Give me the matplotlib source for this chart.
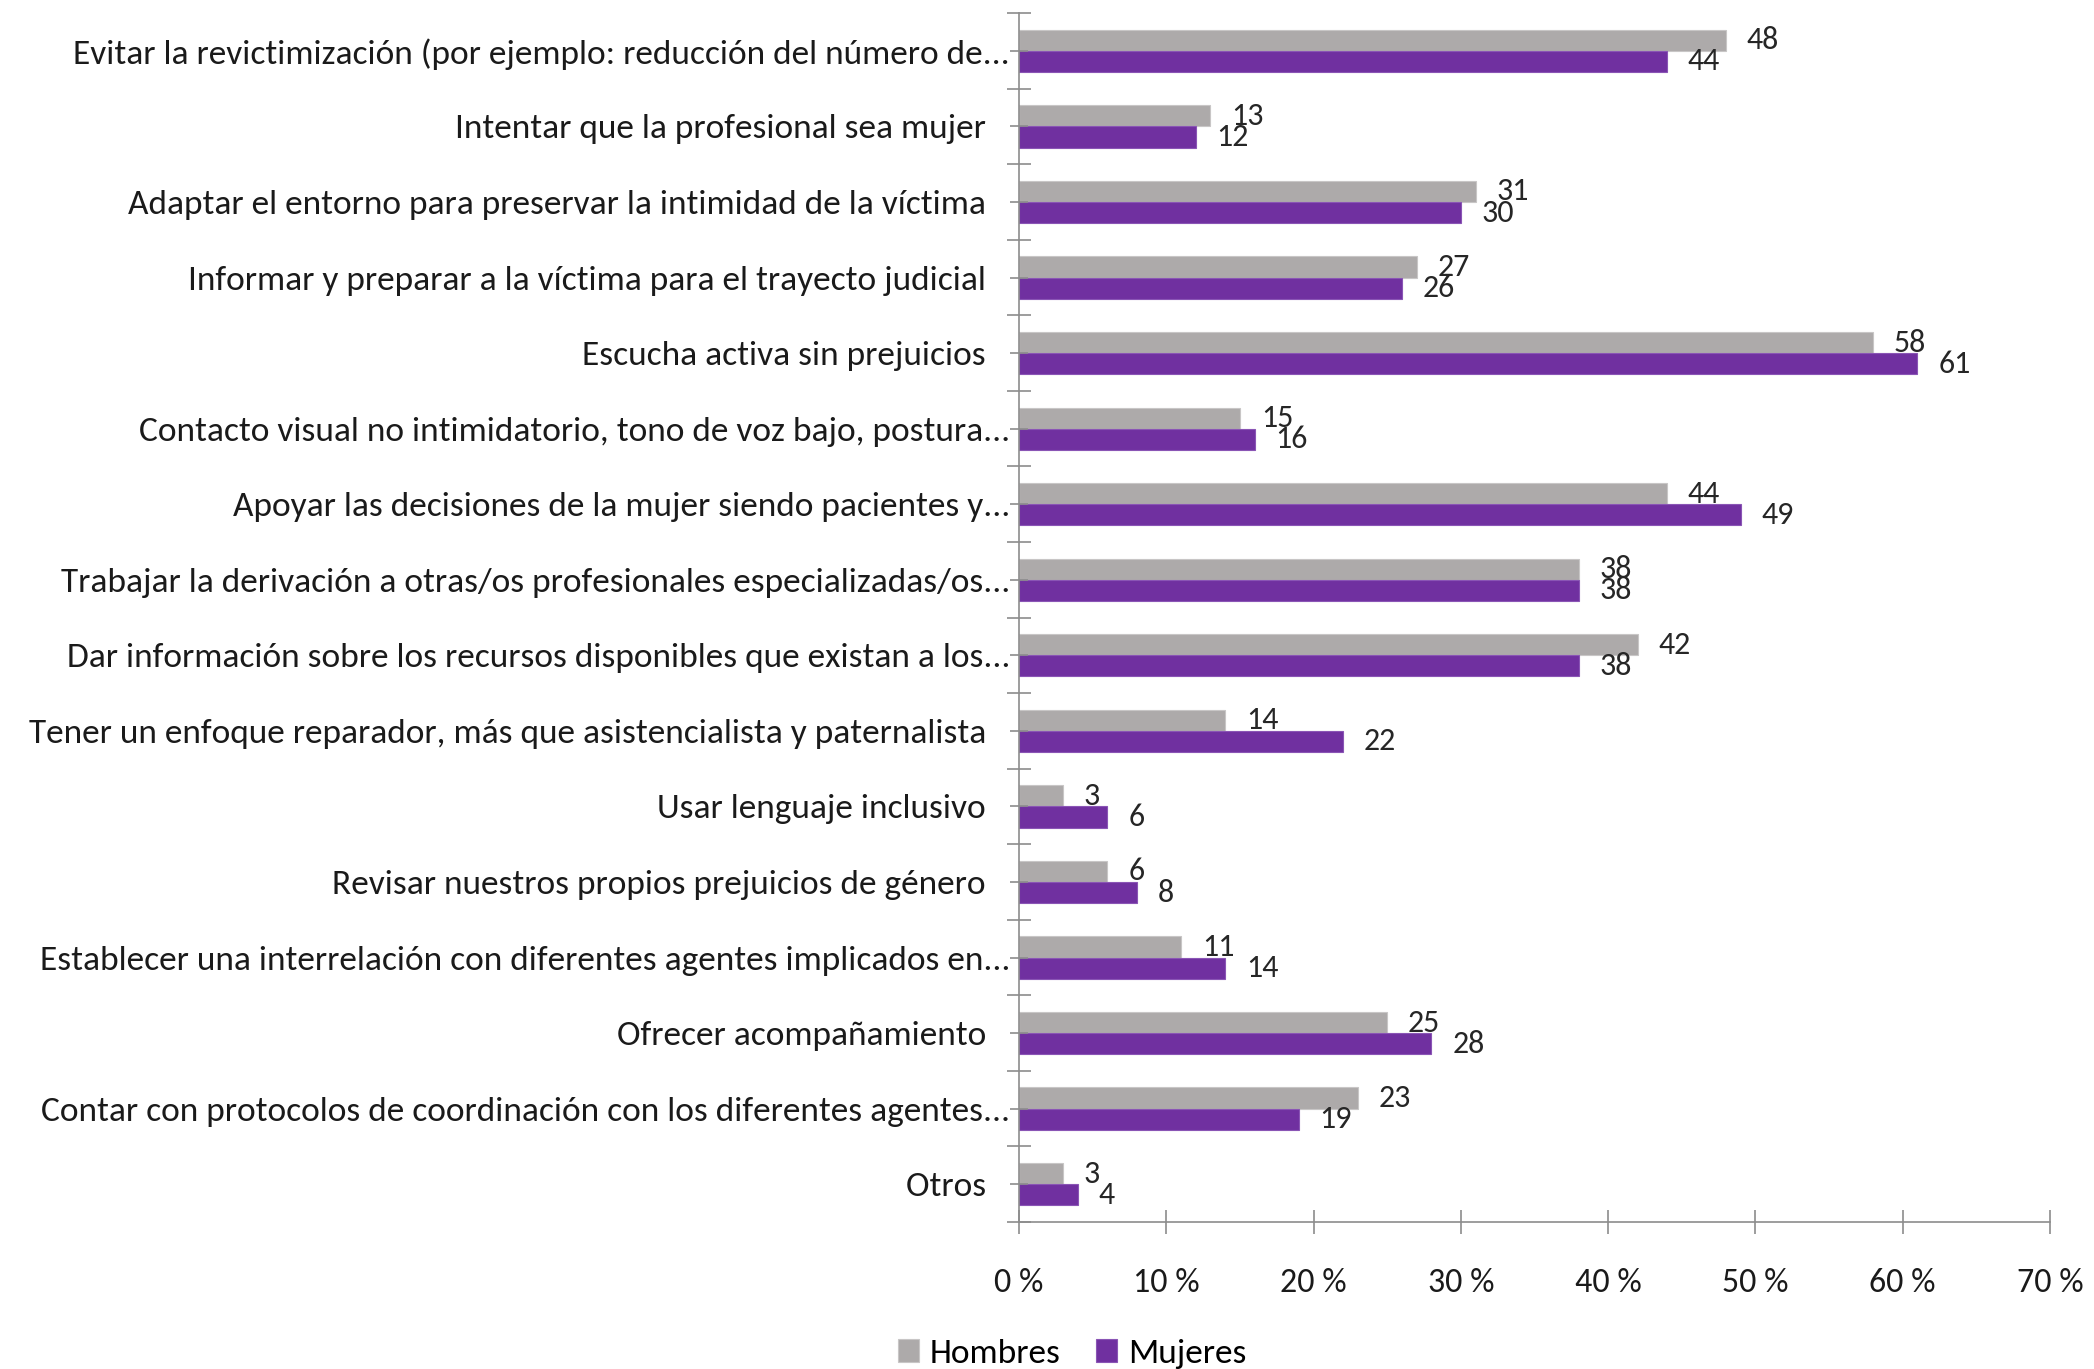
import matplotlib
matplotlib.use("Agg")

import matplotlib.pyplot as plt
import numpy as np


categories = [
    "Evitar la revictimización (por ejemplo: reducción del número de...",
    "Intentar que la profesional sea mujer",
    "Adaptar el entorno para preservar la intimidad de la víctima",
    "Informar y preparar a la víctima para el trayecto judicial",
    "Escucha activa sin prejuicios",
    "Contacto visual no intimidatorio, tono de voz bajo, postura...",
    "Apoyar las decisiones de la mujer siendo pacientes y...",
    "Trabajar la derivación a otras/os profesionales especializadas/os...",
    "Dar información sobre los recursos disponibles que existan a los...",
    "Tener un enfoque reparador, más que asistencialista y paternalista",
    "Usar lenguaje inclusivo",
    "Revisar nuestros propios prejuicios de género",
    "Establecer una interrelación con diferentes agentes implicados en...",
    "Ofrecer acompañamiento",
    "Contar con protocolos de coordinación con los diferentes agentes...",
    "Otros",
]
hombres = [48, 13, 31, 27, 58, 15, 44, 38, 42, 14, 3, 6, 11, 25, 23, 3]
mujeres = [44, 12, 30, 26, 61, 16, 49, 38, 38, 22, 6, 8, 14, 28, 19, 4]
x_ticks = [0, 10, 20, 30, 40, 50, 60, 70]

GRAY = "#adaaaa"
PURPLE = "#7030a0"
AXIS = "#8c8c8c"

plt.rcParams["font.family"] = ["Carlito", "DejaVu Sans"]
plt.rcParams["font.size"] = 22

fig = plt.figure(figsize=(20.94, 13.69), dpi=100)
ax = fig.add_axes([0.4866, 0.1074, 0.4924, 0.883])

n = len(categories)
y = np.arange(n)
h = 0.28

ax.barh(y - h / 2, hombres, height=h, color=GRAY, edgecolor="#c8c6c6", linewidth=0.8, label="Hombres")
ax.barh(y + h / 2, mujeres, height=h, color=PURPLE, edgecolor="#8a55b5", linewidth=0.8, label="Mujeres")

for yi, v in zip(y, hombres):
    ax.annotate(str(v), (v, yi - h / 2), xytext=(15, 0), textcoords="offset points",
                ha="left", va="center", fontsize=23, color="#262626")
for yi, v in zip(y, mujeres):
    ax.annotate(str(v), (v, yi + h / 2), xytext=(15, 0), textcoords="offset points",
                ha="left", va="center", fontsize=23, color="#262626")

ax.set_ylim(n - 0.5, -0.5)
ax.set_xlim(0, 70)

# category labels; truncated ones run a bit further right
labels = [c if c.endswith("...") else c + "   " for c in categories]
ax.set_yticks(y)
ax.set_yticklabels(labels)
ax.set_yticks(np.arange(-0.5, n, 1), minor=True)
ax.tick_params(axis="y", which="major", direction="inout", length=13, width=1.2,
               color=AXIS, pad=0, labelsize=25.5, labelcolor="#1a1a1a")
ax.tick_params(axis="y", which="minor", direction="inout", length=17, width=1.2, color=AXIS)

ax.set_xticks(x_ticks)
ax.set_xticklabels([f"{t} %" for t in x_ticks])
ax.tick_params(axis="x", direction="inout", length=17, width=1.2, color=AXIS,
               pad=25, labelsize=24.5, labelcolor="#1a1a1a")

for s in ["top", "right"]:
    ax.spines[s].set_visible(False)
for s in ["left", "bottom"]:
    ax.spines[s].set_color(AXIS)
    ax.spines[s].set_linewidth(1.2)

fig.legend(loc="center", bbox_to_anchor=(0.512, 0.011), ncol=2, frameon=False,
           handlelength=0.6, handleheight=0.6, handletextpad=0.3, columnspacing=1.0,
           fontsize=25.5)

fig.savefig("out.png", dpi=100)
